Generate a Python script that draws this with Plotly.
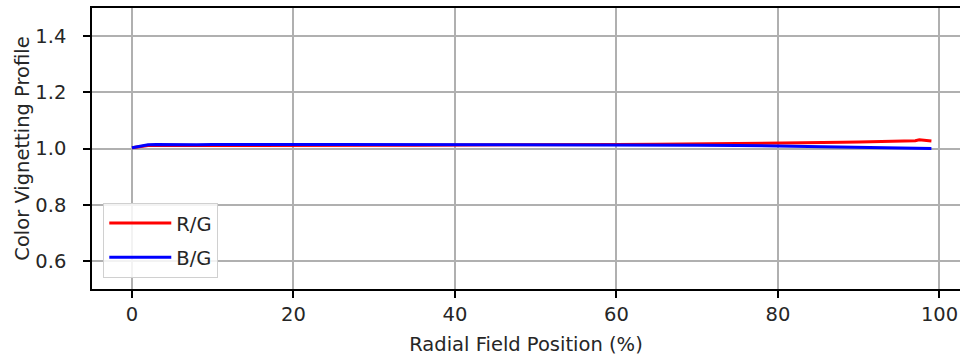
import plotly.graph_objects as go

# Data
radial_pos = [0, 1, 2, 3, 5, 8, 10, 15, 20, 25, 30, 35, 40, 45, 50, 55, 60, 65, 70, 75,
              80, 85, 88, 90, 92, 94, 96, 97, 97.5, 98, 99]
rg_ratio = [1.003, 1.007, 1.011, 1.012, 1.011, 1.011, 1.011, 1.011, 1.012, 1.012, 1.012,
            1.012, 1.012, 1.012, 1.013, 1.014, 1.014, 1.015, 1.016, 1.017,
            1.019, 1.021, 1.022, 1.023, 1.024, 1.025, 1.026, 1.028, 1.031, 1.030, 1.027]
bg_ratio = [1.003, 1.009, 1.013, 1.014, 1.013, 1.013, 1.014, 1.013, 1.014, 1.014, 1.014,
            1.014, 1.014, 1.014, 1.014, 1.013, 1.013, 1.013, 1.012, 1.011,
            1.009, 1.006, 1.004, 1.003, 1.002, 1.001, 1.000, 1.001, 1.001, 1.001, 1.000]
x_ticks = [0, 20, 40, 60, 80, 100]
y_ticks = [0.6, 0.8, 1.0, 1.2, 1.4]

FONT = "DejaVu Sans"
FS = 19.5
TXT = "#262626"

fig = go.Figure()
fig.add_trace(go.Scatter(x=radial_pos, y=rg_ratio, mode="lines", name="R/G",
                         legendgroup="rg",
                         line=dict(color="#ff0000", width=3)))
fig.add_trace(go.Scatter(x=radial_pos, y=bg_ratio, mode="lines", name="B/G",
                         legendgroup="bg",
                         line=dict(color="#0000ff", width=3)))

fig.update_layout(
    width=960, height=359,
    margin=dict(l=92, r=0, t=8, b=70),
    paper_bgcolor="white", plot_bgcolor="white",
    font=dict(family=FONT, size=FS, color=TXT),
    showlegend=True,
    legend=dict(x=0.013, y=0.04, xanchor="left", yanchor="bottom",
                bgcolor="rgba(255,255,255,0.85)", bordercolor="#d0d0d0", borderwidth=1,
                font=dict(family=FONT, size=FS, color=TXT),
                itemwidth=62, tracegroupgap=6),
)
fig.update_xaxes(
    range=[-4.95, 102.54], tickvals=x_ticks, ticktext=[str(v) for v in x_ticks],
    showgrid=True, gridcolor="#b0b0b0", gridwidth=1.5, zeroline=False,
    showline=True, linecolor="black", linewidth=1.6, mirror=True,
    ticks="outside", ticklen=7, tickcolor="black", tickwidth=1.6,
    ticklabelstandoff=0,
    title=dict(text="Radial Field Position (%)", font=dict(family=FONT, size=FS), standoff=12),
)
fig.update_yaxes(
    range=[0.5, 1.5], tickvals=y_ticks, ticktext=[f"{v:.1f}" for v in y_ticks],
    showgrid=True, gridcolor="#b0b0b0", gridwidth=1.5, zeroline=False,
    showline=True, linecolor="black", linewidth=1.6, mirror=False,
    ticks="outside", ticklen=7, tickcolor="black", tickwidth=1.6,
    ticklabelstandoff=13,
    title=dict(text="Color Vignetting Profile", font=dict(family=FONT, size=FS), standoff=0),
)

fig.write_html("out.html", config={"displayModeBar": False},
               post_script="document.body.style.margin='0px';")
